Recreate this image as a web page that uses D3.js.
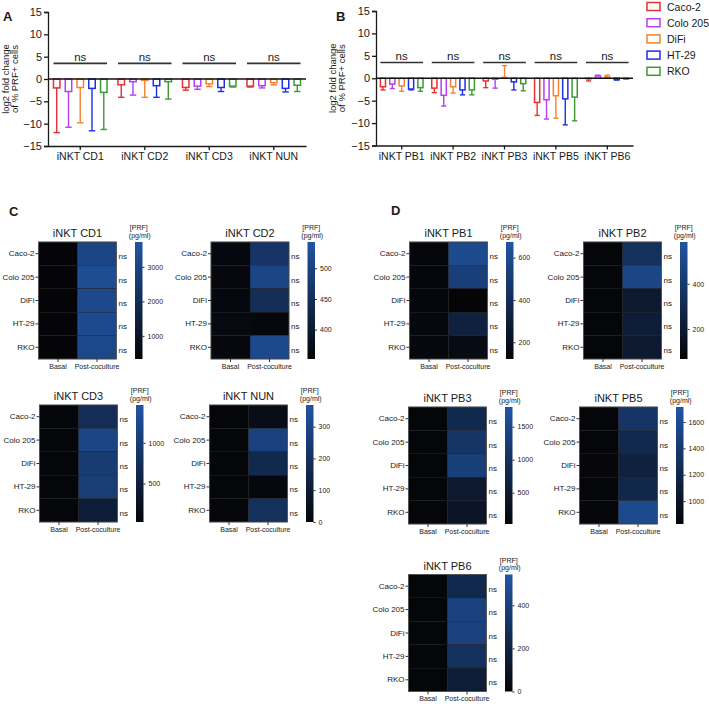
<!DOCTYPE html>
<html><head><meta charset="utf-8">
<script src="https://cdn.jsdelivr.net/npm/d3@7"></script>
<style>body{margin:0;background:#fff}svg text{font-family:"Liberation Sans",Arial,Helvetica,sans-serif;fill:#1a1a1a}</style>
</head><body><svg id="c" width="709" height="704"></svg>
<script>
// ---------- DATA ----------
const cellLines = ["Caco-2", "Colo 205", "DiFi", "HT-29", "RKO"];
const groupsA = ["iNKT CD1", "iNKT CD2", "iNKT CD3", "iNKT NUN"];
const groupsB = ["iNKT PB1", "iNKT PB2", "iNKT PB3", "iNKT PB5", "iNKT PB6"];
// rows = cell lines, cols = groups (log2 fold change, mean and SD)
const meanA = [
  [-2.0, -1.3, -1.9, -1.6],
  [-2.8, -0.6, -1.6, -1.5],
  [-1.9, -0.3, -1.1, -0.8],
  [-2.1, -1.5, -1.9, -2.1],
  [-3.0, -0.6, -1.6, -1.4]
];
const sdA = [
  [10.0, 2.8, 0.6, 0.2],
  [8.0, 3.0, 0.7, 0.5],
  [7.9, 3.8, 0.6, 0.5],
  [9.5, 2.6, 0.9, 0.8],
  [8.3, 3.9, 0.2, 1.4]
];
const meanB = [
  [-1.9, -2.2, -0.6, -5.4, -0.1],
  [-1.3, -3.8, -0.2, -4.8, 0.5],
  [-1.7, -1.9, 0.2, -3.9, 0.3],
  [-2.4, -2.6, -0.8, -4.6, -0.3],
  [-2.1, -2.6, -1.2, -4.2, -0.1]
];
const sdB = [
  [0.7, 1.0, 1.5, 2.9, 0.5],
  [1.0, 2.4, 2.0, 4.3, 0.2],
  [1.2, 1.4, 2.6, 5.0, 0.4],
  [0.2, 1.1, 1.8, 5.8, 0.1],
  [0.8, 1.1, 1.6, 5.3, 0.1]
];
const yTicks = [15, 10, 5, 0, -5, -10, -15];
const sigText = "ns";

const heatTitles = ["iNKT CD1", "iNKT CD2", "iNKT CD3", "iNKT NUN", "iNKT PB1", "iNKT PB2", "iNKT PB3", "iNKT PB5", "iNKT PB6"];
const conditions = ["Basal", "Post-coculture"];
// [PRF] pg/ml, rows = panels, cols = cell lines
const basalPRF = [
  [350, 345, 340, 345, 340],
  [360, 358, 360, 362, 358],
  [40, 42, 38, 40, 40],
  [4, 3, 4, 3, 4],
  [135, 138, 135, 140, 142],
  [75, 72, 74, 72, 74],
  [45, 42, 40, 42, 45],
  [840, 838, 842, 840, 845],
  [6, 5, 6, 5, 6]
];
const postPRF = [
  [3050, 3380, 3180, 3250, 3110],
  [467, 505, 447, 358, 514],
  [745, 1177, 1004, 1033, 458],
  [37, 276, 165, 15, 200],
  [591, 520, 121, 315, 165],
  [352, 481, 197, 222, 197],
  [823, 1089, 1302, 469, 380],
  [1359, 1226, 1137, 1199, 1581],
  [244, 407, 407, 299, 163]
];
const prfMin = [330, 352, 27, 0, 121, 67, 26, 826, 0];
const prfMax = [3720, 543, 1464, 368, 674, 585, 1798, 1714, 543];
const prfTicks = [
  [1000, 2000, 3000],
  [400, 450, 500],
  [500, 1000],
  [0, 100, 200, 300],
  [200, 400, 600],
  [200, 400],
  [500, 1000, 1500],
  [1000, 1200, 1400, 1600],
  [0, 200, 400]
];

// ---------- STYLE / LAYOUT ----------
const seriesColors = ["#e8312f", "#b53ff0", "#f5822f", "#1f2fe6", "#3b9a33"];
const heatLow = "#050508", heatHigh = "#2155a4";
const svg = d3.select("#c");

function panelLetter(t, x, y) {
  svg.append("text").attr("x", x).attr("y", y).attr("font-size", 13).attr("font-weight", "bold").text(t);
}

function barPanel(groups, means, sds, x0, x1, yTop, yBot, labelX) {
  const g = svg.append("g");
  const y = d3.scaleLinear().domain([-15, 15]).range([yBot, yTop]);
  const xg = d3.scaleBand().domain(groups).range([x0, x1]).paddingInner(0.17).paddingOuter(0.085);
  const xs = d3.scaleBand().domain(cellLines).range([0, xg.bandwidth()]).paddingInner(0.45).paddingOuter(0);
  const bw = xs.bandwidth();
  cellLines.forEach((cl, si) => {
    groups.forEach((gr, gi) => {
      const m = means[si][gi], s = sds[si][gi];
      const cx = xg(gr) + xs(cl) + bw / 2;
      const col = seriesColors[si];
      const end = m + Math.sign(m || -1) * s;
      g.append("line").attr("x1", cx).attr("x2", cx).attr("y1", y(m)).attr("y2", y(end))
        .attr("stroke", col).attr("stroke-width", 1.4);
      g.append("line").attr("x1", cx - bw / 2).attr("x2", cx + bw / 2).attr("y1", y(end)).attr("y2", y(end))
        .attr("stroke", col).attr("stroke-width", 1.4);
      g.append("rect").attr("x", xg(gr) + xs(cl)).attr("width", bw)
        .attr("y", Math.min(y(0), y(m))).attr("height", Math.abs(y(m) - y(0)))
        .attr("fill", "#fff").attr("stroke", col).attr("stroke-width", 1.5);
    });
  });
  // zero line
  g.append("line").attr("x1", x0).attr("x2", x1).attr("y1", y(0)).attr("y2", y(0))
    .attr("stroke", "#111").attr("stroke-width", 1.6);
  // significance
  groups.forEach(gr => {
    g.append("line").attr("x1", xg(gr)).attr("x2", xg(gr) + xg.bandwidth())
      .attr("y1", y(3.5)).attr("y2", y(3.5)).attr("stroke", "#333").attr("stroke-width", 1.6);
    g.append("text").attr("x", xg(gr) + xg.bandwidth() / 2).attr("y", y(3.5) - 2.5)
      .attr("text-anchor", "middle").attr("font-size", 11.5).text(sigText);
  });
  // axes
  const ya = g.append("g").attr("transform", `translate(${x0},0)`)
    .call(d3.axisLeft(y).tickValues(yTicks).tickSize(4).tickPadding(2).tickFormat(d3.format("d")));
  ya.selectAll("text").attr("font-size", 11);
  const xa = g.append("g").attr("transform", `translate(0,${yBot})`)
    .call(d3.axisBottom(xg).tickSize(4).tickSizeOuter(0).tickPadding(3));
  xa.selectAll("text").attr("font-size", 10.5);
  [ya, xa].forEach(a => { a.selectAll("path,line").attr("stroke", "#1a1a1a").attr("stroke-width", 1.3); a.attr("font-family", null); });
  // y label
  const cy = (yTop + yBot) / 2;
  g.append("text").attr("transform", `translate(${labelX},${cy}) rotate(-90)`).attr("text-anchor", "middle")
    .attr("font-size", 9.5).text("log2 fold change");
  g.append("text").attr("transform", `translate(${labelX + 9},${cy}) rotate(-90)`).attr("text-anchor", "middle")
    .attr("font-size", 9.5).text("of % PRF+ cells");
}

panelLetter("A", 3, 21);
panelLetter("B", 336, 21);
panelLetter("C", 9, 216);
panelLetter("D", 391, 215);
barPanel(groupsA, meanA, sdA, 48, 306, 12, 146, 8.5);
barPanel(groupsB, meanB, sdB, 376, 633, 11, 145.5, 336);

// legend
const leg = svg.append("g");
cellLines.forEach((cl, i) => {
  const yy = 6.5 + i * 16.2;
  leg.append("rect").attr("x", 647).attr("y", yy - 4).attr("width", 13).attr("height", 8)
    .attr("fill", "#fff").attr("stroke", seriesColors[i]).attr("stroke-width", 1.5);
  leg.append("text").attr("x", 667).attr("y", yy + 4).attr("font-size", 10.5).text(cl);
});

// heatmaps
const heatPos = [[38.5, 242], [211, 242], [39.5, 405], [209.5, 405], [409.5, 242], [583.5, 242], [408.5, 407], [579.5, 407], [408.5, 574.5]];
const HW = 78, HH = 117;
const defs = svg.append("defs");
heatTitles.forEach((title, i) => {
  const [left, top] = heatPos[i];
  const g = svg.append("g");
  const x = d3.scaleBand().domain(conditions).range([left, left + HW]);
  const y = d3.scaleBand().domain(cellLines).range([top, top + HH]);
  const color = d3.scaleLinear().domain([prfMin[i], prfMax[i]]).range([heatLow, heatHigh]).clamp(true);
  cellLines.forEach((cl, r) => {
    [basalPRF[i][r], postPRF[i][r]].forEach((v, c) => {
      g.append("rect").attr("x", x(conditions[c])).attr("y", y(cl)).attr("width", x.bandwidth()).attr("height", y.bandwidth())
        .attr("fill", color(v)).attr("stroke", "#111").attr("stroke-width", 0.4);
    });
    g.append("text").attr("x", left + HW + 2).attr("y", y(cl) + y.bandwidth() / 2 + 5.5)
      .attr("font-size", 8).text(sigText);
  });
  g.append("rect").attr("x", left).attr("y", top).attr("width", HW).attr("height", HH)
    .attr("fill", "none").attr("stroke", "#555").attr("stroke-width", 0.8);
  const ra = g.append("g").attr("transform", `translate(${left},0)`).call(d3.axisLeft(y).tickSize(3).tickPadding(1));
  ra.select(".domain").remove();
  ra.selectAll("text").attr("font-size", 8);
  const ca = g.append("g").attr("transform", `translate(0,${top + HH})`).call(d3.axisBottom(x).tickSize(3).tickPadding(2));
  ca.select(".domain").remove();
  ca.selectAll("text").attr("font-size", 7);
  [ra, ca].forEach(a => { a.selectAll("line").attr("stroke", "#333"); a.attr("font-family", null); });
  g.append("text").attr("x", left + HW / 2).attr("y", top - 5).attr("text-anchor", "middle").attr("font-size", 11).text(title);
  // colorbar
  const cbx = left + HW + 18.5, cbw = 7.5;
  const gid = "grad" + i;
  const grad = defs.append("linearGradient").attr("id", gid).attr("x1", 0).attr("y1", 1).attr("x2", 0).attr("y2", 0);
  grad.append("stop").attr("offset", 0).attr("stop-color", heatLow);
  grad.append("stop").attr("offset", 1).attr("stop-color", heatHigh);
  g.append("rect").attr("x", cbx).attr("y", top).attr("width", cbw).attr("height", HH).attr("fill", `url(#${gid})`);
  const cb = d3.scaleLinear().domain([prfMin[i], prfMax[i]]).range([top + HH, top]);
  const cba = g.append("g").attr("transform", `translate(${cbx + cbw},0)`)
    .call(d3.axisRight(cb).tickValues(prfTicks[i]).tickSize(2).tickPadding(3).tickFormat(d3.format("d")));
  cba.select(".domain").remove();
  cba.selectAll("line").attr("stroke", "#222");
  cba.selectAll("text").attr("font-size", 7);
  cba.attr("font-family", null);
  g.append("text").attr("x", cbx + cbw / 2).attr("y", top - 12).attr("text-anchor", "middle").attr("font-size", 7).text("[PRF]");
  g.append("text").attr("x", cbx + cbw / 2 + 1).attr("y", top - 4.5).attr("text-anchor", "middle").attr("font-size", 7).text("(pg/ml)");
});
</script></body></html>
